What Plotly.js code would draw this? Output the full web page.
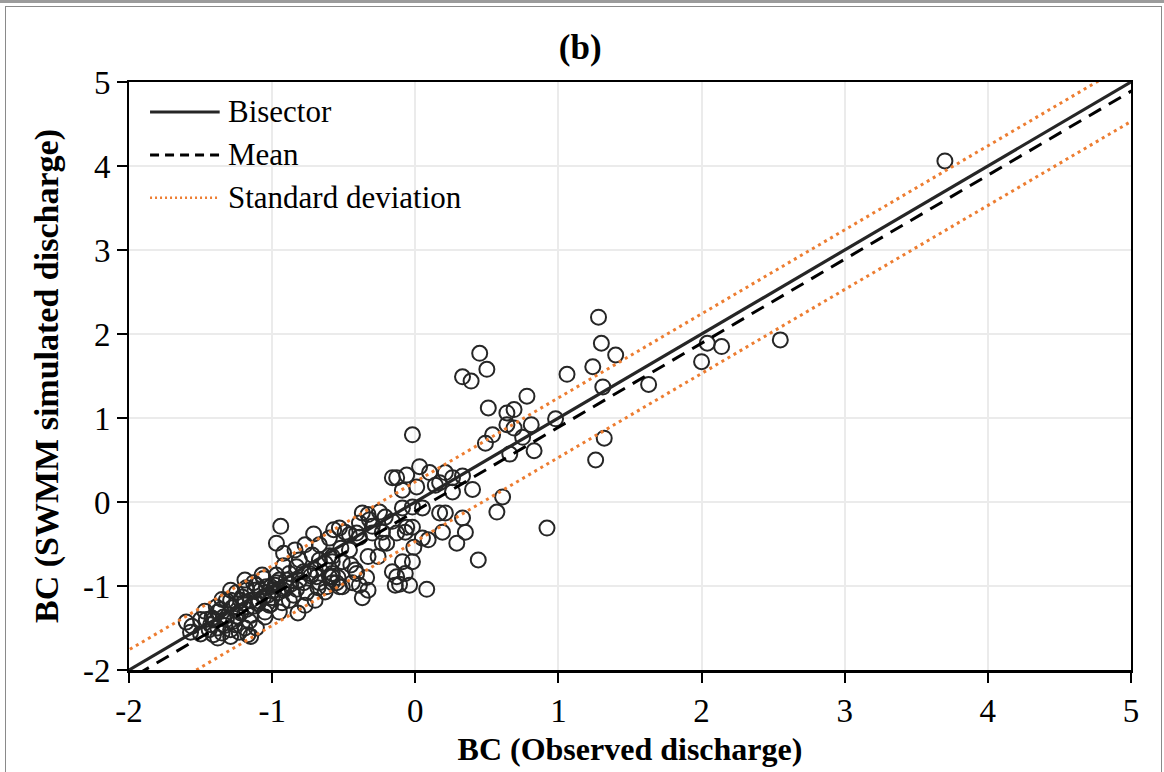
<!DOCTYPE html>
<html>
<head>
<meta charset="utf-8">
<script src="https://cdn.plot.ly/plotly-3.0.1.min.js"></script>
<style>
  html, body { margin: 0; padding: 0; background: #ffffff; }
  #wrap { position: relative; width: 1164px; height: 772px; overflow: hidden; }
  #chart { position: absolute; left: 0; top: 0; width: 1164px; height: 772px; }
  .frame { position: absolute; background: #9c9c9c; pointer-events: none; z-index: 5; }
</style>
</head>
<body>
<div id="wrap">
  <div id="chart"></div>
  <div class="frame" style="left:0;top:0;width:1164px;height:3px;"></div>
  <div class="frame" style="left:5px;top:6px;width:1157px;height:1px;background:#8a8a8a;"></div>
  <div class="frame" style="left:5px;top:6px;width:1px;height:766px;background:#8a8a8a;"></div>
  <div class="frame" style="left:1161px;top:6px;width:1px;height:766px;background:#8a8a8a;"></div>
</div>
<script>
// Observed (x) and SWMM simulated (y) Box-Cox transformed discharge
var obsX = [
  3.70, 2.55, 2.14, 2.04, 2.00, 1.63, 1.40, 1.30, 1.28, 1.24, 1.31, 1.06, 0.98, 1.32, 1.26, 0.83, 0.81, 0.78,
  0.75, 0.69, 0.64, 0.69, 0.64, 0.54, 0.49, 0.66, 0.51, 0.45, 0.50, 0.33, 0.39, 0.92, 0.44, 0.61, 0.57, -0.02,
  0.35, 0.29, 0.33, 0.19, 0.17, 0.21, 0.09, 0.05, 0.03, 0.10, 0.21, 0.33, 0.17, 0.14, 0.26, 0.26, 0.40, -0.16,
  -0.13, -0.06, -0.09, 0.01, 0.05, -0.09, -0.02, -0.06, -0.02, -0.07, -0.01, -0.02, -0.09, -0.16, -0.13, -0.07,
  -0.11, -0.04, -0.14, 0.08, -0.16, -0.13, -0.23, -0.20, -0.23, -0.30, -0.30, -0.33, -0.32, -0.25, -0.21, -0.37,
  -0.39, -0.46, -0.41, -0.39, -0.53, -0.57, -0.33, -0.26, -0.42, -0.41, -0.34, -0.33, -0.37, -0.39, -0.44, -0.51,
  -0.53, -0.55, -0.58, -0.58, -0.58, -0.67, -0.77, -0.84, -0.72, -0.51, -0.46, -0.63, -0.70, -0.77, -0.49,
  -0.94, -0.97, -0.92, -0.92, -0.71, -0.60, -0.58, -0.63, -0.81, -0.83, -0.78, -0.74, -0.69, -0.67, -0.62, -0.58,
  -0.90, -0.97, -1.04, -0.99, -1.13, -1.12, -1.18, -1.25, -1.22, -1.29, -1.60, -1.57, -1.50, -1.41, -1.35, -1.29,
  -1.19, -1.17, -1.11, -1.50, -1.42, -1.32, -1.22, -1.15, -1.18, -1.21, -1.10, -1.05, -1.03, -1.01, -0.95, -0.92,
  -0.88, -0.85, -0.83, -0.81, -0.73, -0.70, -0.60, -0.60, -0.67, -0.54, -0.82, -0.95, -1.05, -1.25, -1.32, -1.38,
  -1.29, -1.11, -0.97, -1.07, -1.19, -1.26, -1.34, -1.43, -1.47, -1.56, -1.02, -1.15, -1.06, -1.39, -1.46, -1.29,
  -1.15, -1.35,
  -1.44, -1.38, -1.33, -1.27, -1.24, -1.18, -1.13, -1.09, -1.06, -1.00, -0.96, -0.93, -0.90, -0.87, -0.78, -0.76,
  -0.68, -1.41, -1.36, -1.28, -1.20, -1.08, -1.01, -0.98, -1.16, -1.23, -1.38, -0.88, -0.52, -0.45
];
var simY = [
  4.06, 1.93, 1.85, 1.89, 1.67, 1.40, 1.75, 1.89, 2.20, 1.61, 1.37, 1.52, 0.99, 0.76, 0.50, 0.61, 0.92, 1.26,
  0.77, 0.88, 0.92, 1.10, 1.06, 0.80, 0.70, 0.57, 1.12, 1.77, 1.58, 1.49, 1.44, -0.31, -0.69, 0.06, -0.12, 0.80,
  -0.36, -0.49, -0.19, -0.36, -0.13, -0.13, -0.45, -0.43, 0.42, 0.35, 0.35, 0.31, 0.23, 0.20, 0.29, 0.12, 0.15, 0.29,
  0.29, 0.32, 0.14, 0.18, -0.07, -0.07, -0.06, -0.30, -0.30, -0.36, -0.54, -0.71, -0.71, -0.83, -0.89, -0.85,
  -0.98, -0.99, -0.99, -1.04, -0.23, -0.37, -0.36, -0.49, -0.49, -0.37, -0.29, -0.15, -0.21, -0.12, -0.18, -0.13,
  -0.25, -0.39, -0.37, -0.42, -0.31, -0.33, -0.65, -0.65, -0.81, -0.85, -0.90, -1.05, -1.14, -0.99, -0.96, -1.01,
  -1.01, -0.96, -0.71, -0.89, -0.96, -0.51, -0.51, -0.57, -0.63, -0.71, -0.57, -1.07, -1.17, -1.23, -0.36,
  -0.29, -0.49, -0.61, -0.76, -0.38, -0.43, -0.65, -0.73, -0.69, -0.77, -0.83, -0.85, -0.89, -0.96, -1.01, -0.85,
  -0.93, -0.96, -1.01, -1.05, -0.96, -1.05, -1.05, -1.08, -1.17, -1.17, -1.43, -1.55, -1.57, -1.58, -1.56, -1.52,
  -1.50, -1.58, -1.50, -1.40, -1.38, -1.40, -1.32, -1.17, -1.02, -1.13, -1.21, -1.31, -1.11, -1.01, -0.93, -1.05,
  -1.17, -1.11, -1.04, -0.93, -0.88, -0.81, -0.89, -0.64, -0.69, -0.90, -1.32, -1.31, -1.37, -1.21, -1.17, -1.31,
  -1.05, -0.99, -0.87, -0.87, -0.93, -1.46, -1.37, -1.46, -1.30, -1.48, -1.23, -1.35, -0.91, -1.25, -1.40, -1.60,
  -1.60, -1.16,
  -1.52, -1.50, -1.47, -1.42, -1.36, -1.28, -1.24, -1.18, -1.13, -1.14, -1.08, -1.20, -1.02, -0.98, -0.96, -1.08,
  -1.02, -1.40, -1.28, -1.26, -1.20, -1.05, -1.22, -0.99, -1.42, -1.55, -1.62, -0.85, -0.55, -0.75
];

// Reference lines (end points beyond the axis range; clipped by the plot area)
var refX        = [-2.5, 5.5];
var bisectorY   = [-2.5, 5.5];
var meanY       = [-2.61, 5.39];   // bisector shifted by the mean error (-0.11)
var sdUpperY    = [-2.26, 5.74];   // mean + 1 standard deviation (0.35)
var sdLowerY    = [-2.97, 5.03];   // mean - 1 standard deviation

var xTicks = [-2, -1, 0, 1, 2, 3, 4, 5];
var yTicks = [-2, -1, 0, 1, 2, 3, 4, 5];
var legendNames = ['Bisector', 'Mean', 'Standard deviation'];

var serif = 'Liberation Serif, Times New Roman, serif';
var ink = '#262626';
var orange = '#ED7D31';

var traces = [
  { x: obsX, y: simY, type: 'scatter', mode: 'markers', name: 'Data', showlegend: false,
    marker: { symbol: 'circle-open', size: 15, color: ink, line: { width: 2, color: ink } } },
  { x: refX, y: sdUpperY, type: 'scatter', mode: 'lines', name: legendNames[2], showlegend: false,
    line: { color: orange, width: 3, dash: '3px,4px' } },
  { x: refX, y: sdLowerY, type: 'scatter', mode: 'lines', name: legendNames[2], showlegend: false,
    line: { color: orange, width: 3, dash: '3px,4px' } },
  { x: refX, y: meanY, type: 'scatter', mode: 'lines', name: legendNames[1], showlegend: false,
    line: { color: '#000000', width: 3, dash: '14px,9px' } },
  { x: refX, y: bisectorY, type: 'scatter', mode: 'lines', name: legendNames[0], showlegend: false,
    line: { color: ink, width: 3.2 } }
];

// Custom legend (long line samples as in the original)
var legY = [0.949, 0.876, 0.803];
var legStyles = [
  { color: ink, width: 3, dash: 'solid' },
  { color: '#000000', width: 3, dash: '9px,6px' },
  { color: orange, width: 2.5, dash: '2px,3px' }
];
var shapes = [], annotations = [];
for (var i = 0; i < legendNames.length; i++) {
  shapes.push({ type: 'line', xref: 'paper', yref: 'paper', x0: 0.021, x1: 0.0905, y0: legY[i], y1: legY[i],
    line: legStyles[i] });
  annotations.push({ xref: 'paper', yref: 'paper', x: 0.0965, y: legY[i], xanchor: 'left', yanchor: 'middle',
    text: legendNames[i], showarrow: false, font: { family: serif, size: 31, color: '#000' } });
}

var layout = {
  width: 1164, height: 772,
  margin: { l: 129, r: 33, t: 82, b: 102 },
  paper_bgcolor: '#ffffff', plot_bgcolor: '#ffffff',
  showlegend: false,
  title: { text: '<b>(b)</b>', x: 0.4985, xref: 'container', xanchor: 'center', y: 0.94, yref: 'container', yanchor: 'middle',
    font: { family: serif, size: 35, color: '#000' } },
  xaxis: {
    range: [-2, 5], tickvals: xTicks, ticktext: xTicks.map(String),
    showgrid: true, gridcolor: '#ebebeb', gridwidth: 2, zeroline: false,
    showline: true, linecolor: '#000', linewidth: 2.5, mirror: true,
    ticks: 'outside', ticklen: 10, tickwidth: 2, tickcolor: '#000',
    tickfont: { family: serif, size: 33, color: '#000' },
    title: { text: '<b>BC (Observed discharge)</b>', font: { family: serif, size: 32, color: '#000' }, standoff: 10 }
  },
  yaxis: {
    range: [-2, 5], tickvals: yTicks, ticktext: yTicks.map(String),
    showgrid: true, gridcolor: '#ebebeb', gridwidth: 2, zeroline: false,
    showline: true, linecolor: '#000', linewidth: 2, mirror: true,
    ticks: 'outside', ticklen: 10, tickwidth: 2, tickcolor: '#000',
    tickfont: { family: serif, size: 33, color: '#000' },
    title: { text: '<b>BC (SWMM simulated discharge)</b>', font: { family: serif, size: 34, color: '#000' }, standoff: 14 }
  },
  shapes: shapes,
  annotations: annotations
};

Plotly.newPlot('chart', traces, layout, { displayModeBar: false, staticPlot: true });
</script>
</body>
</html>
